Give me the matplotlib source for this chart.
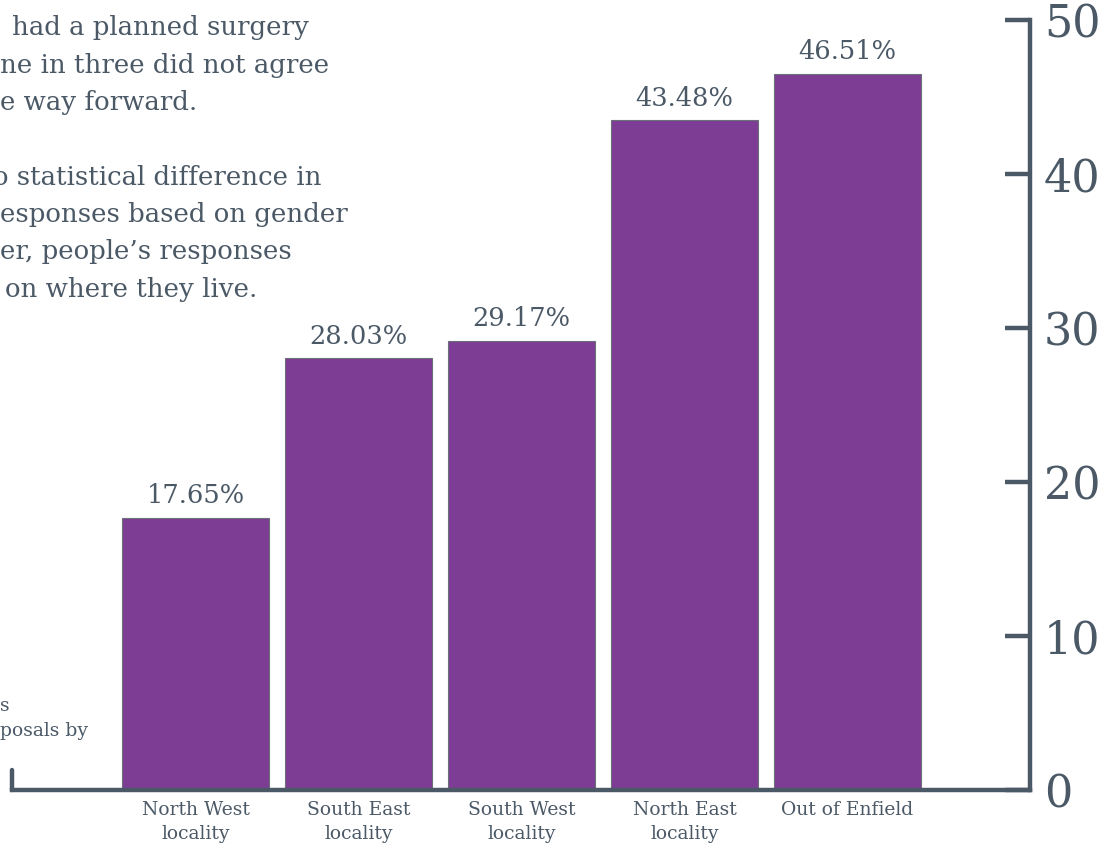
import numpy as np
import matplotlib
matplotlib.use("Agg")
import matplotlib.pyplot as plt

# data
categories = ["North West\nlocality", "South East\nlocality", "South West\nlocality",
              "North East\nlocality", "Out of Enfield"]
values = [17.65, 28.03, 29.17, 43.48, 46.51]
yticks = [0, 10, 20, 30, 40, 50]

intro_lines = ["had a planned surgery", "ne in three did not agree", "e way forward.", "",
               "o statistical difference in", "esponses based on gender",
               "er, people\u2019s responses", "on where they live."]
intro_x = [12, 0, 0, 0, -7, 0, 0, 5]
note_lines = ["s", "posals by"]

SLATE = "#4B5967"
PURPLE = "#7E3D95"
FONT = "DejaVu Serif"

fig = plt.figure(figsize=(11.06, 8.49), dpi=100)
W, H = 1106, 849
ax = fig.add_axes([12 / W, 59 / H, 1018 / W, 770 / H])

x = np.arange(len(values))
bars = ax.bar(x, values, width=0.902, color=PURPLE, edgecolor="#6A6F78", linewidth=0.8)
ax.bar_label(bars, labels=["%.2f%%" % v for v in values], padding=7,
             fontsize=18.5, color=SLATE, family=FONT)

ax.set_xlim(-1.126, 5.12)
ax.set_ylim(0, 50)

# axes styling
for s in ("left", "top"):
    ax.spines[s].set_visible(False)
for s in ("right", "bottom"):
    ax.spines[s].set_color(SLATE)
    ax.spines[s].set_linewidth(3.2)
ax.yaxis.tick_right()
ax.set_yticks(yticks)
ax.set_yticklabels([str(t) for t in yticks])
ax.tick_params(axis="y", direction="in", length=18, width=3.2, color=SLATE,
               labelsize=32, labelcolor=SLATE, pad=10)
for lab in ax.get_yticklabels():
    lab.set_family(FONT)
ax.set_xticks(x)
ax.set_xticklabels(categories)
ax.tick_params(axis="x", length=0, pad=8, labelsize=13.5, labelcolor=SLATE)
for lab in ax.get_xticklabels():
    lab.set_family(FONT)
    lab.set_linespacing(1.45)

# small end tick on the left of the baseline
ax.plot([-1.126, -1.126], [0, 1.3], color=SLATE, lw=3.2, clip_on=False,
        solid_capstyle="round")

# cropped intro text top-left
y0 = 28
for i, line in enumerate(intro_lines):
    fig.text(intro_x[i] / W, 1 - (y0 + i * 37.3) / H, line, ha="left", va="center",
             fontsize=18.7, color=SLATE, family=FONT)

# cropped note text bottom-left
for i, line in enumerate(note_lines):
    fig.text(0, 1 - (706 + i * 25) / H, line, ha="left", va="center",
             fontsize=13.5, color=SLATE, family=FONT)

fig.savefig("out.png", dpi=100)
